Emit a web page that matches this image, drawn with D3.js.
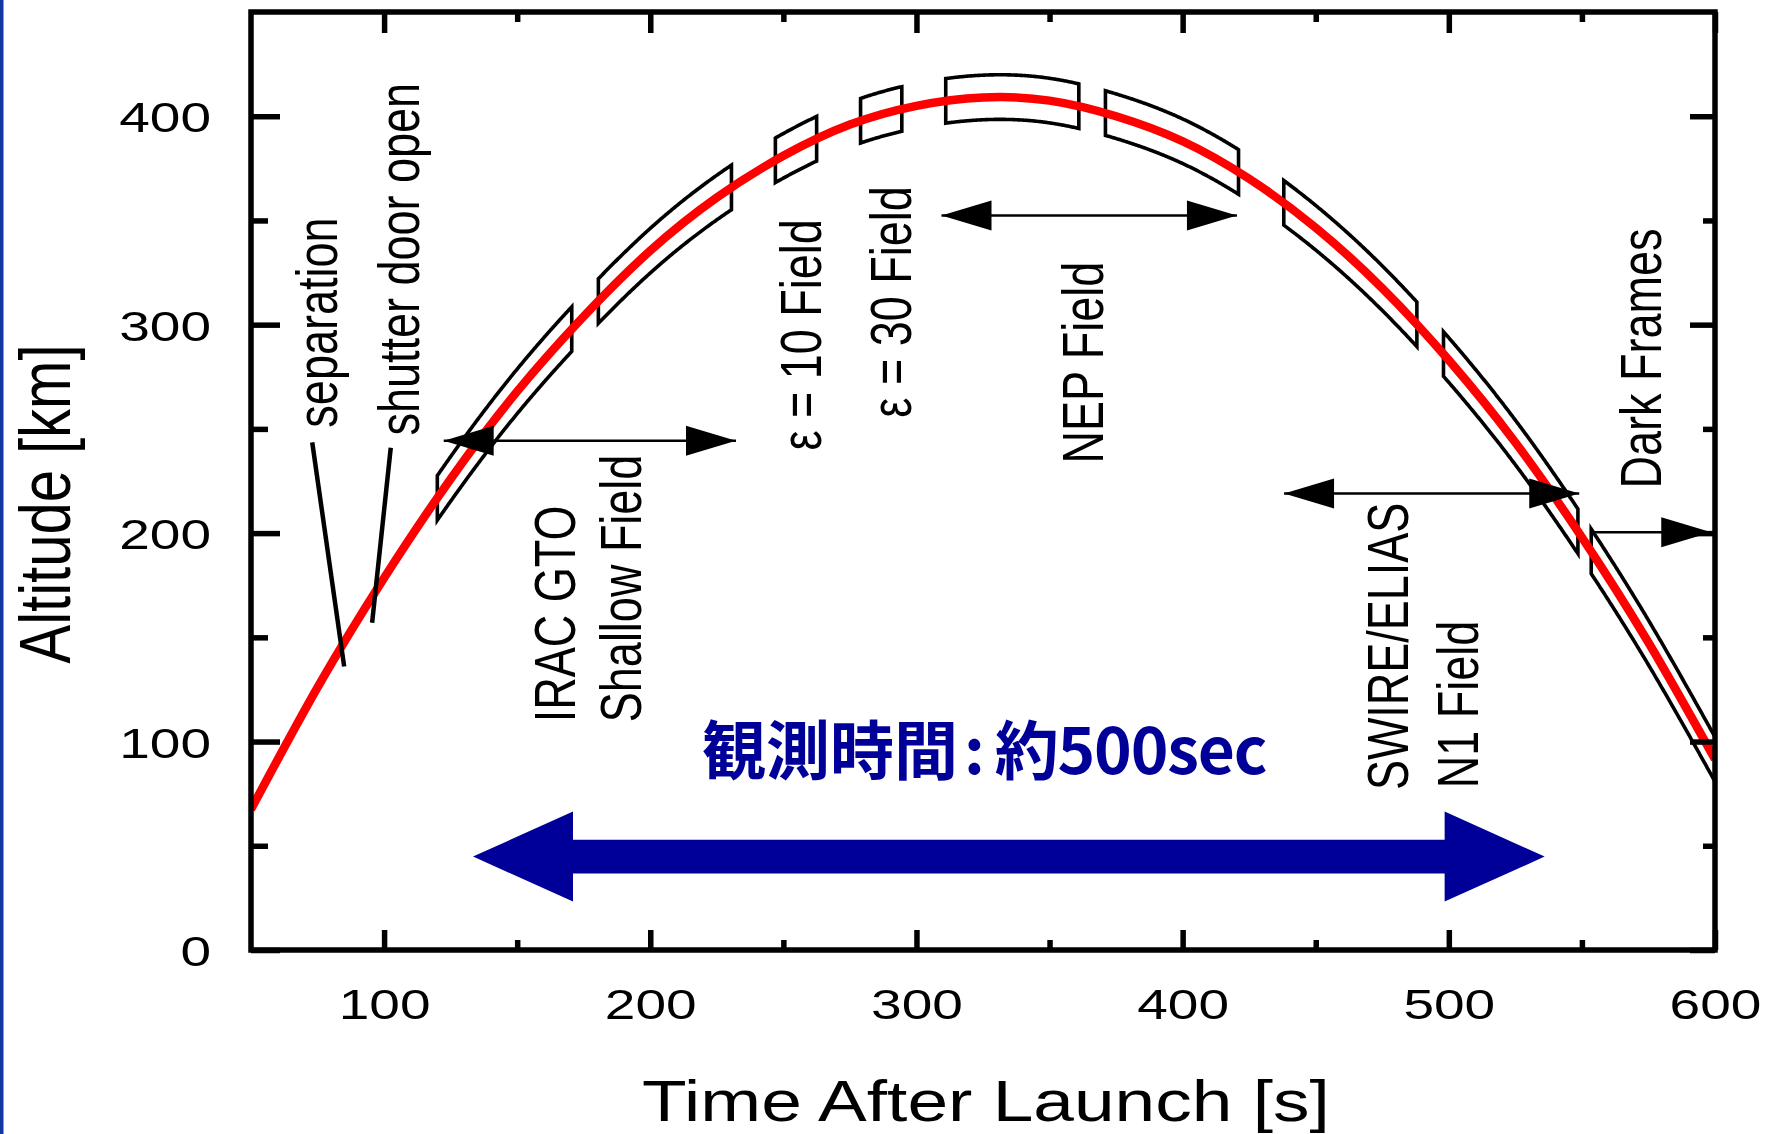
<!DOCTYPE html>
<html><head><meta charset="utf-8">
<script src="https://cdn.jsdelivr.net/npm/d3@7"></script>
<style>html,body{margin:0;padding:0;background:#fff;} svg{display:block}</style>
</head><body>
<svg id="c" width="1774" height="1134"></svg>
<script>
// ---- data ----
const timeS      = [50, 75, 100, 125, 150, 175, 200, 225, 250, 275, 300, 325, 350, 375, 400, 425, 450, 475, 500, 525, 550, 575, 600];
const altitudeKm = [67.5, 126, 178.5, 226, 268, 304, 335.5, 361, 381, 396, 405, 409, 407.5, 400, 388, 370, 346.5, 317.5, 283, 243.5, 198, 147.5, 91.5];

const xTicks = [100, 200, 300, 400, 500, 600];
const xMinor = [150, 250, 350, 450, 550];
const yTicks = [0, 100, 200, 300, 400];
const yMinor = [50, 150, 250, 350];

// observation field boxes (time ranges, s) and half height (km)
const fieldStart = [120, 180.5, 247, 279, 311, 371, 438, 498, 553.5];
const fieldEnd   = [170.5, 230.5, 262.5, 294.5, 361, 421, 488, 548.5, 600];
const fieldHalfKm = 10.7;

// annotation labels (rotated), anchored in data units
const labelText = ["separation", "shutter door open", "IRAC GTO", "Shallow Field", "ε = 10 Field", "ε = 30 Field", "NEP Field", "SWIRE/ELIAS", "N1 Field", "Dark Frames"];
const labelT    = [82.3, 113.1, 171.7, 196.5, 264.1, 298.0, 370.1, 484.6, 511.0, 579.8];
const labelAlt  = [250.6, 246.8, 109.3, 109.3, 239.6, 255.4, 233.4, 76.7, 77.6, 221.4];

// pointer lines for separation / shutter door open
const sepLineT = [73, 85],      sepLineAlt = [243.5, 136];
const shutLineT = [102.5, 95.5], shutLineAlt = [241, 157];

// black arrows
const arrowAlt  = [244.3, 352.4, 219, 200.4];
const arrowT0   = [122.4, 309.4, 438.1, 553.9];
const arrowT1   = [232.2, 420.4, 549, 598.6];
const arrowBoth = [true, true, true, false];

// blue observation-time arrow and label
const obsArrowT = [133.4, 536];
const obsArrowAlt = 44.8;
const obsLabel = ["観測時間", ":", "約500sec"];
const obsLabelPos = [219.4, 84.3];

// ---- drawing ----
const W = 1774, H = 1134;
const FONT = '"Liberation Sans", Arial, Helvetica, sans-serif';
const SX = 1.28;
const svg = d3.select('#c');

const x = d3.scaleLinear().domain([50, 600]).range([251, 1715]);
const y = d3.scaleLinear().domain([0, 450]).range([950, 12]);

svg.append('rect').attr('width', W).attr('height', H).attr('fill', '#fff');
svg.append('rect').attr('x', 0).attr('y', 0).attr('width', 3.5).attr('height', H).attr('fill', '#1038a0');

svg.append('clipPath').attr('id', 'clip').append('rect')
  .attr('x', x(50)).attr('y', y(450)).attr('width', x(600) - x(50)).attr('height', y(0) - y(450));

const plot = svg.append('g').attr('clip-path', 'url(#clip)');
const gBoxes = plot.append('g');
const gCurve = plot.append('g');
const gLines = svg.append('g');
const gArrows = svg.append('g');
const gText = svg.append('g');
const gAxes = svg.append('g');

// red trajectory
const pts = timeS.map((t, i) => [t, altitudeKm[i]]);
const line = d3.line().x(d => x(d[0])).y(d => y(d[1])).curve(d3.curveNatural);
const curvePath = gCurve.append('path').datum(pts).attr('d', line)
  .attr('fill', 'none').attr('stroke', '#ff0000').attr('stroke-width', 8.5);

// lookup of the drawn curve
const node = curvePath.node();
const L = node.getTotalLength();
const lx = [], ly = [];
for (let i = 0; i <= 4000; i++) { const p = node.getPointAtLength(L * i / 4000); lx.push(p.x); ly.push(p.y); }
function curveY(px) {
  let i = d3.bisectLeft(lx, px);
  if (i <= 0) return ly[0];
  if (i >= lx.length) return ly[ly.length - 1];
  const f = (px - lx[i - 1]) / ((lx[i] - lx[i - 1]) || 1);
  return ly[i - 1] + f * (ly[i] - ly[i - 1]);
}

// field boxes
const hPx = y(0) - y(fieldHalfKm);
const polyLine = d3.line();
fieldStart.forEach((t0, i) => {
  const x0 = x(t0), x1 = x(fieldEnd[i]);
  const n = Math.max(2, Math.ceil(x1 - x0));
  const top = [], bot = [];
  for (let k = 0; k <= n; k++) {
    const px = x0 + (x1 - x0) * k / n;
    const cy = curveY(px);
    top.push([px, cy - hPx]); bot.push([px, cy + hPx]);
  }
  gBoxes.append('path').attr('d', polyLine(top.concat(bot.reverse())) + 'Z')
    .attr('fill', 'none').attr('stroke', '#000').attr('stroke-width', 3.6).attr('stroke-linejoin', 'miter');
});

// pointer lines
[[sepLineT, sepLineAlt], [shutLineT, shutLineAlt]].forEach(([ts, as]) => {
  gLines.append('line').attr('x1', x(ts[0])).attr('y1', y(as[0])).attr('x2', x(ts[1])).attr('y2', y(as[1]))
    .attr('stroke', '#000').attr('stroke-width', 4.5);
});

// black arrows
const HL = 50, HH = 15;
function head(tipX, yy, dir) {
  return `M${tipX},${yy}L${tipX - dir * HL},${yy - HH}L${tipX - dir * HL},${yy + HH}Z`;
}
arrowAlt.forEach((a, i) => {
  const yy = y(a), xa = x(arrowT0[i]), xb = x(arrowT1[i]);
  gArrows.append('line').attr('x1', xa).attr('y1', yy).attr('x2', xb).attr('y2', yy)
    .attr('stroke', '#000').attr('stroke-width', 2.6);
  gArrows.append('path').attr('d', head(xb, yy, 1)).attr('fill', '#000');
  if (arrowBoth[i]) gArrows.append('path').attr('d', head(xa, yy, -1)).attr('fill', '#000');
});

// blue double arrow
{
  const xa = x(obsArrowT[0]), xb = x(obsArrowT[1]), yc = y(obsArrowAlt);
  const hl = 100, hh = 45, sh = 16.8;
  const p = [[xa, yc], [xa + hl, yc - hh], [xa + hl, yc - sh], [xb - hl, yc - sh], [xb - hl, yc - hh], [xb, yc],
             [xb - hl, yc + hh], [xb - hl, yc + sh], [xa + hl, yc + sh], [xa + hl, yc + hh]];
  gArrows.append('path').attr('d', polyLine(p) + 'Z').attr('fill', '#000099');
}

// rotated annotation labels
labelText.forEach((s, i) => {
  gText.append('text')
    .attr('transform', `translate(${x(labelT[i])},${y(labelAlt[i])}) scale(${SX},1) rotate(-90)`)
    .attr('font-family', FONT).attr('font-size', 45).attr('fill', '#000')
    .attr('text-anchor', 'start').text(s);
});

// Japanese label
{
  const t = gText.append('text').attr('x', x(obsLabelPos[0])).attr('y', y(obsLabelPos[1]))
    .attr('font-family', '"Noto Sans CJK JP", "Noto Sans CJK SC", sans-serif')
    .attr('font-weight', 'bold').attr('font-size', 64).attr('fill', '#000099');
  t.append('tspan').text(obsLabel[0]);
  t.append('tspan').attr('dx', 6).text(obsLabel[1]);
  t.append('tspan').attr('dx', 10).attr('letter-spacing', -1.2).text(obsLabel[2]);
}

// axes
function styleAxis(g) {
  g.select('.domain').remove();
  g.selectAll('.tick line').attr('stroke', '#000').attr('stroke-width', 5.5);
  g.attr('font-family', FONT).attr('font-size', 43);
}
const gB = gAxes.append('g').attr('transform', `translate(0,${y(0)})`)
  .call(d3.axisBottom(x).tickValues(xTicks).tickSize(-20).tickSizeOuter(0).tickFormat(d3.format('d')));
styleAxis(gB);
gB.selectAll('.tick text').attr('y', 38.5).attr('dy', '0.71em').attr('fill', '#000')
  .attr('transform', `scale(${SX},1)`);
const gBm = gAxes.append('g').attr('transform', `translate(0,${y(0)})`)
  .call(d3.axisBottom(x).tickValues(xMinor).tickSize(-10).tickSizeOuter(0).tickFormat(''));
styleAxis(gBm);

const gT = gAxes.append('g').attr('transform', `translate(0,${y(450)})`)
  .call(d3.axisTop(x).tickValues(xTicks).tickSize(-21).tickSizeOuter(0).tickFormat(''));
styleAxis(gT);
const gTm = gAxes.append('g').attr('transform', `translate(0,${y(450)})`)
  .call(d3.axisTop(x).tickValues(xMinor).tickSize(-10).tickSizeOuter(0).tickFormat(''));
styleAxis(gTm);

const gL = gAxes.append('g').attr('transform', `translate(${x(50)},0)`)
  .call(d3.axisLeft(y).tickValues(yTicks).tickSize(-29).tickSizeOuter(0).tickFormat(d3.format('d')));
styleAxis(gL);
gL.selectAll('.tick text').attr('x', -40 / SX).attr('dy', '0.36em').attr('fill', '#000')
  .attr('transform', `scale(${SX},1)`);
const gLm = gAxes.append('g').attr('transform', `translate(${x(50)},0)`)
  .call(d3.axisLeft(y).tickValues(yMinor).tickSize(-17).tickSizeOuter(0).tickFormat(''));
styleAxis(gLm);

const gR = gAxes.append('g').attr('transform', `translate(${x(600)},0)`)
  .call(d3.axisRight(y).tickValues(yTicks).tickSize(-25).tickSizeOuter(0).tickFormat(''));
styleAxis(gR);
const gRm = gAxes.append('g').attr('transform', `translate(${x(600)},0)`)
  .call(d3.axisRight(y).tickValues(yMinor).tickSize(-12).tickSizeOuter(0).tickFormat(''));
styleAxis(gRm);

// frame
gAxes.append('rect').attr('x', x(50)).attr('y', y(450)).attr('width', x(600) - x(50)).attr('height', y(0) - y(450))
  .attr('fill', 'none').attr('stroke', '#000').attr('stroke-width', 5.5);

// axis titles
gAxes.append('text').attr('transform', `translate(986,1121) scale(1.26,1)`)
  .attr('text-anchor', 'middle').attr('font-family', FONT).attr('font-size', 58).attr('fill', '#000')
  .text('Time After Launch [s]');
gAxes.append('text').attr('transform', `translate(70,504) scale(1.26,1) rotate(-90)`)
  .attr('text-anchor', 'middle').attr('font-family', FONT).attr('font-size', 58).attr('fill', '#000')
  .text('Altitude [km]');
</script>
</body></html>
